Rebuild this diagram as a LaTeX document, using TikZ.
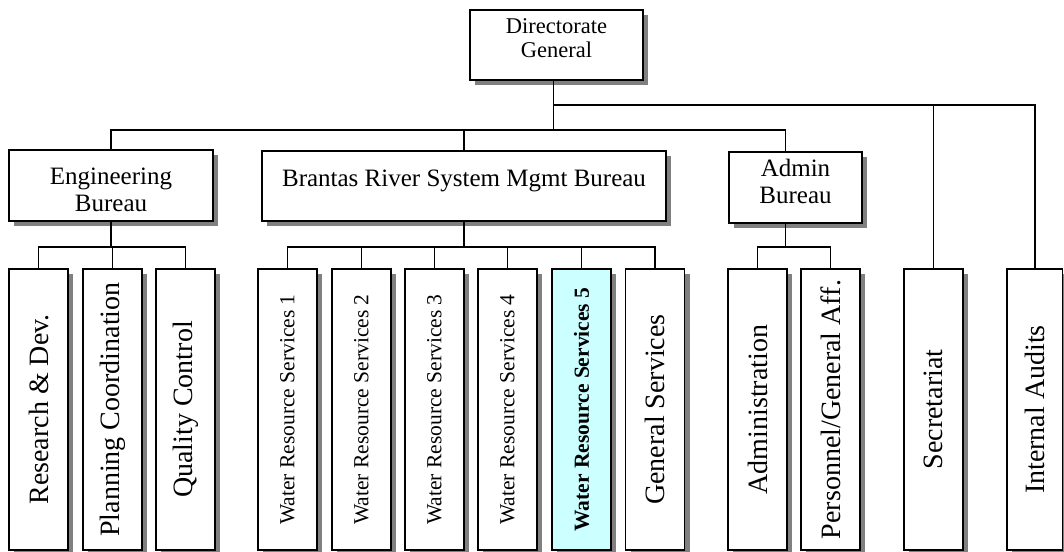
\documentclass[tikz,border=0pt]{standalone}
\usepackage{fontspec}
\setmainfont{Liberation Serif}
\usepackage{graphicx}
\usetikzlibrary{shadows}

\begin{document}
\begin{tikzpicture}[x=1pt,y=-1pt,
	box/.style={draw,line width=1.8pt,fill=white,inner sep=2pt,align=center,
		drop shadow={shadow xshift=5pt,shadow yshift=-5pt,fill=black!50,opacity=1}},
	bureau/.style={box,font=\fontsize{25}{27}\selectfont},
	unit/.style={box,minimum width=59pt,minimum height=281pt,font=\fontsize{28}{30}\selectfont},
	wrs/.style={unit,font=\fontsize{21.5}{24}\selectfont},
	link/.style={line width=1.5pt}]
		\useasboundingbox (0,0) rectangle (1064,551);
		
		% the top box
		\node[box,minimum width=173pt,minimum height=70pt,font=\fontsize{22.5}{24}\selectfont,
		text height=40pt,text depth=16pt] (dg) at (556.5,45) {Directorate\\General};
		
		% the bureaus
		\node[bureau,minimum width=204pt,minimum height=71pt,text height=56pt,text depth=3.6pt] (eng) at (111,185.5) {Engineering\\Bureau};
		\node[bureau,minimum width=404pt,minimum height=70pt,text height=18pt,text depth=18pt] (brs) at (464,186) {Brantas River System Mgmt Bureau};
		\node[bureau,minimum width=133pt,minimum height=71pt,text height=45pt,text depth=14pt] (adm) at (795.5,187.5) {Admin\\Bureau};
		
		% the units
		\node[unit] (rd) at (38.5,409.5) {\rotatebox{90}{Research \& Dev.}};
		\node[unit] (pc) at (112.5,409.5) {\rotatebox{90}{Planning Coordination}};
		\node[unit] (qc) at (185.5,409.5) {\rotatebox{90}{Quality Control}};
		\node[wrs] (wr1) at (287.5,409.5) {\rotatebox{90}{Water Resource Services 1}};
		\node[wrs] (wr2) at (361.5,409.5) {\rotatebox{90}{Water Resource Services 2}};
		\node[wrs] (wr3) at (434.5,409.5) {\rotatebox{90}{Water Resource Services 3}};
		\node[wrs] (wr4) at (507.5,409.5) {\rotatebox{90}{Water Resource Services 4}};
		\node[wrs,fill={rgb,255:red,204;green,255;blue,255}] (wr5) at (581.5,409.5) {\rotatebox{90}{\bfseries Water Resource Services 5}};
		\node[unit] (gs) at (655,409.5) {\rotatebox{90}{General Services}};
		\node[unit] (ad) at (757.5,409.5) {\rotatebox{90}{Administration}};
		\node[unit] (pa) at (830.5,409.5) {\rotatebox{90}{Personnel/General Aff.}};
		\node[unit] (sec) at (933.5,409.5) {\rotatebox{90}{Secretariat}};
		\node[unit,minimum width=55.5pt] (aud) at (1034.75,409.5) {\rotatebox{90}{Internal Audits}};
		
		% the connecting lines
		\coordinate (top) at (0,105);
		\coordinate (mid) at (0,130);
		\coordinate (low) at (0,247);
		\draw[link] ([xshift=-3pt]dg.south) -- ([xshift=-3pt]dg.south |- mid);
		\draw[link] (eng.north) -- (eng.north |- mid) -- ([xshift=-10pt]adm.north |- mid) -- ([xshift=-10pt]adm.north);
		\draw[link] (brs.north) -- (brs.north |- mid);
		\draw[link] ([xshift=-3pt]dg.south |- top) -- (aud.north |- top) -- (aud.north);
		\draw[link] (sec.north) -- (sec.north |- top);
		
		\draw[link] (eng.south) -- (eng.south |- low);
		\draw[link] (rd.north) -- (rd.north |- low) -- (qc.north |- low) -- (qc.north);
		\draw[link] (pc.north) -- (pc.north |- low);
		
		\draw[link] (brs.south) -- (brs.south |- low);
		\draw[link] (wr1.north) -- (wr1.north |- low) -- (gs.north |- low) -- (gs.north);
		\foreach \n in {wr2,wr3,wr4,wr5}
		\draw[link] (\n.north) -- (\n.north |- low);
		
		\draw[link] ([xshift=-10pt]adm.south) -- ([xshift=-10pt]adm.south |- low);
		\draw[link] (ad.north) -- (ad.north |- low) -- (pa.north |- low) -- (pa.north);
\end{tikzpicture}
\end{document}
